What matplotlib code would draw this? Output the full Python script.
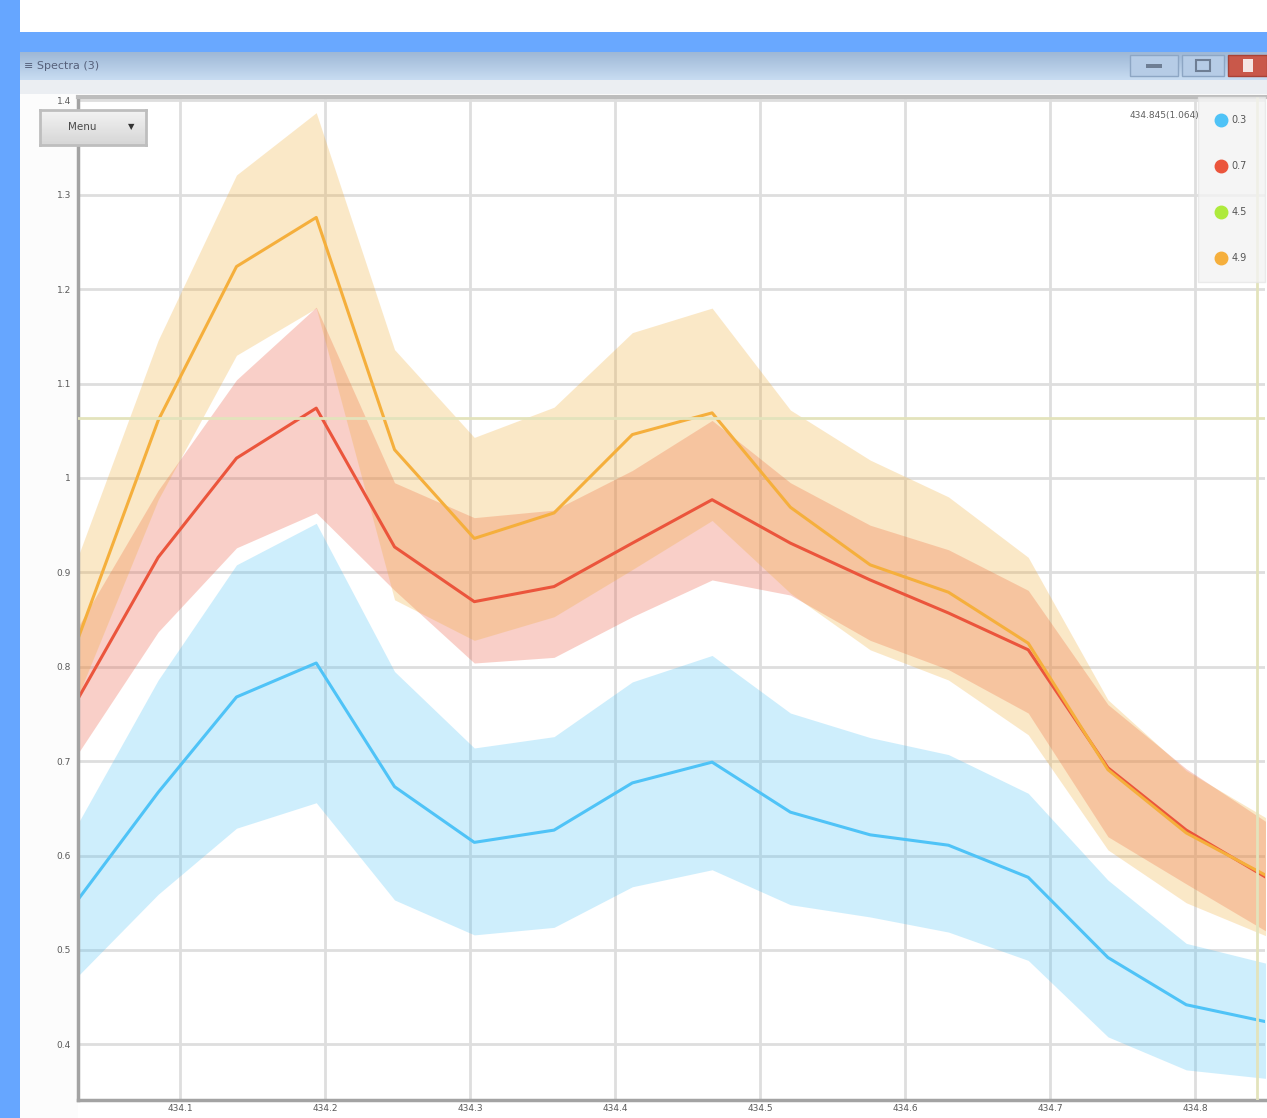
import numpy as np
import matplotlib.pyplot as plt
from matplotlib.patches import Rectangle
from matplotlib.lines import Line2D

W, H = 1267, 1118

# spectra: mean curve and upper/lower envelope for each sample
wavelength = [434.030, 434.085, 434.139, 434.194, 434.248, 434.303, 434.358, 434.412,
              434.467, 434.521, 434.576, 434.630, 434.685, 434.740, 434.794, 434.849]

blue_mean = [0.554, 0.667, 0.768, 0.804, 0.673, 0.614, 0.627, 0.677,
             0.699, 0.646, 0.622, 0.611, 0.577, 0.492, 0.442, 0.424]
blue_upper = [0.635, 0.786, 0.908, 0.952, 0.795, 0.714, 0.726, 0.784,
              0.812, 0.751, 0.725, 0.707, 0.666, 0.574, 0.507, 0.486]
blue_lower = [0.473, 0.559, 0.629, 0.656, 0.553, 0.516, 0.524, 0.567,
              0.585, 0.548, 0.535, 0.519, 0.489, 0.408, 0.373, 0.364]

red_mean = [0.767, 0.916, 1.021, 1.074, 0.927, 0.869, 0.885, 0.931,
            0.977, 0.931, 0.892, 0.857, 0.818, 0.693, 0.627, 0.577]
red_upper = [0.843, 0.987, 1.104, 1.181, 0.995, 0.958, 0.966, 1.008,
             1.061, 0.995, 0.950, 0.924, 0.881, 0.760, 0.692, 0.636]
red_lower = [0.709, 0.837, 0.926, 0.963, 0.881, 0.804, 0.810, 0.853,
             0.892, 0.876, 0.828, 0.797, 0.751, 0.620, 0.570, 0.520]

orange_mean = [0.831, 1.061, 1.224, 1.276, 1.030, 0.936, 0.963, 1.046,
               1.069, 0.969, 0.908, 0.879, 0.825, 0.691, 0.624, 0.579]
orange_upper = [0.918, 1.146, 1.321, 1.387, 1.136, 1.043, 1.075, 1.154,
                1.180, 1.072, 1.019, 0.980, 0.916, 0.765, 0.690, 0.640]
orange_lower = [0.770, 0.977, 1.130, 1.180, 0.871, 0.828, 0.853, 0.903,
                0.955, 0.878, 0.818, 0.786, 0.728, 0.606, 0.550, 0.515]

series_labels = ['0.3', '0.7', '4.5', '4.9']
series_colors = ['#4FC3F7', '#EB553C', '#AEEA3C', '#F5AF3C']

cursor_x = 434.843
cursor_y = 1.064
cursor_text = '434.845(1.064)'

xticks = [434.1, 434.2, 434.3, 434.4, 434.5, 434.6, 434.7, 434.8]
yticks = [0.4, 0.5, 0.6, 0.7, 0.8, 0.9, 1.0, 1.1, 1.2, 1.3, 1.4]


def box(x0, y0, x1, y1):
    # pixel box -> figure fraction [left, bottom, width, height]
    return [x0 / W, 1 - y1 / H, (x1 - x0) / W, (y1 - y0) / H]


fig = plt.figure(figsize=(W / 100, H / 100), dpi=100)
fig.patch.set_facecolor('white')


# window frame, kept behind the axes
def frect(x0, y0, x1, y1, z=-10, **kw):
    l, b, w, h = box(x0, y0, x1, y1)
    fig.patches.append(Rectangle((l, b), w, h, transform=fig.transFigure, zorder=z, **kw))


frect(20, 32, W, 52, color='#69A8FF', lw=0)
frect(0, 0, 20, H, color='#66A6FF', lw=0)
frect(20, 80, W, 94, color='#EBEEF2', lw=0)
frect(20, 94, 78, H, color='#FCFCFC', lw=0)

# title bar gradient
tb = fig.add_axes(box(20, 52, W, 80))
grad = np.linspace(0, 1, 30)[:, None]
top_c = np.array([158, 184, 214]) / 255
bot_c = np.array([200, 220, 242]) / 255
tb.imshow((top_c + (bot_c - top_c) * grad[..., None]) * np.ones((1, 10, 1)),
          aspect='auto', extent=[0, 1, 0, 1])
tb.set_axis_off()
tb.text(0.003, 0.5, '\u2261 Spectra (3)', fontsize=8, color='#56607A',
        va='center', ha='left', transform=tb.transAxes)

# window buttons
frect(1130, 55, 1178, 76, z=5, facecolor='#B6CCE6', edgecolor='#8DA6C4', lw=1)
frect(1182, 55, 1224, 76, z=5, facecolor='#B6CCE6', edgecolor='#8DA6C4', lw=1)
frect(1228, 55, W, 76, z=5, facecolor='#C9584A', edgecolor='#A84236', lw=1)
frect(1146, 64, 1162, 68, z=6, color='#6E7E94', lw=0)
frect(1196, 60, 1210, 71, z=6, facecolor='none', edgecolor='#6E7E94', lw=1.5)
frect(1243, 59, 1253, 72, z=6, color='#F4E6E4', lw=0)

# main plot
ax = fig.add_axes(box(78, 97, 1265, 1100))
ax.set_xlim(434.0297, 434.8483)
ax.set_ylim(0.3411, 1.4036)

ax.fill_between(wavelength, blue_lower, blue_upper, color='#4FC3F7', alpha=0.28, lw=0)
ax.fill_between(wavelength, red_lower, red_upper, color='#EB553C', alpha=0.28, lw=0)
ax.fill_between(wavelength, orange_lower, orange_upper, color='#F0AA33', alpha=0.27, lw=0)

ax.plot(wavelength, blue_mean, color='#4FC3F7', lw=2.2)
ax.plot(wavelength, red_mean, color='#EB553C', lw=2.2)
ax.plot(wavelength, orange_mean, color='#F5AF3C', lw=2.2)

ax.set_xticks(xticks)
ax.set_yticks(yticks)
ax.set_xticklabels([f'{v:g}' for v in xticks])
ax.set_yticklabels([f'{v:g}' for v in yticks])
ax.tick_params(length=0, labelsize=6.5, labelcolor='#5A5A5A')
ax.tick_params(axis='y', pad=5)
ax.tick_params(axis='x', pad=3)
ax.grid(True, color='#DEDEDE', lw=2)
ax.set_axisbelow(True)
for s in ['left', 'bottom']:
    ax.spines[s].set_color('#A3A3A3')
    ax.spines[s].set_linewidth(2.5)
ax.spines['top'].set_color('#BDBDBD')
ax.spines['top'].set_linewidth(3)
ax.spines['right'].set_visible(False)

# cursor crosshair
ax.axvline(cursor_x, color='#E3E3BC', lw=2, zorder=4)
ax.axhline(cursor_y, color='#E3E3BC', lw=2, zorder=4)

# legend
handles = [Line2D([], [], ls='none', marker='o', ms=9, color=c) for c in series_colors]
leg = ax.legend(handles, series_labels, loc='upper right', bbox_to_anchor=(1.0, 1.0),
                borderaxespad=0, frameon=True, fancybox=False, fontsize=7,
                handlelength=1.0, handletextpad=0.5, labelspacing=3.7,
                borderpad=1.9, labelcolor='#555555')
leg.get_frame().set_facecolor('#F3F3F3')
leg.get_frame().set_edgecolor('#E6E6E6')
leg.set_zorder(6)

ax.text(0.945, 0.982, cursor_text, transform=ax.transAxes, ha='right', va='center',
        fontsize=6.5, color='#606060', zorder=7)

# menu button
mb = fig.add_axes(box(40, 110, 146, 145))
mb.imshow(np.linspace(0.95, 0.84, 20)[:, None] * np.ones((1, 10)), cmap='gray',
          vmin=0, vmax=1, aspect='auto', extent=[0, 1, 0, 1])
mb.set_xticks([])
mb.set_yticks([])
for s in mb.spines.values():
    s.set_color('#BEBEBE')
    s.set_linewidth(2)
mb.text(0.4, 0.5, 'Menu', fontsize=7.5, color='#4A4A4A', ha='center', va='center',
        transform=mb.transAxes)
mb.text(0.86, 0.52, '\u25BC', fontsize=6, color='#333333', ha='center', va='center',
        transform=mb.transAxes)

plt.savefig('out.png', dpi=100)
